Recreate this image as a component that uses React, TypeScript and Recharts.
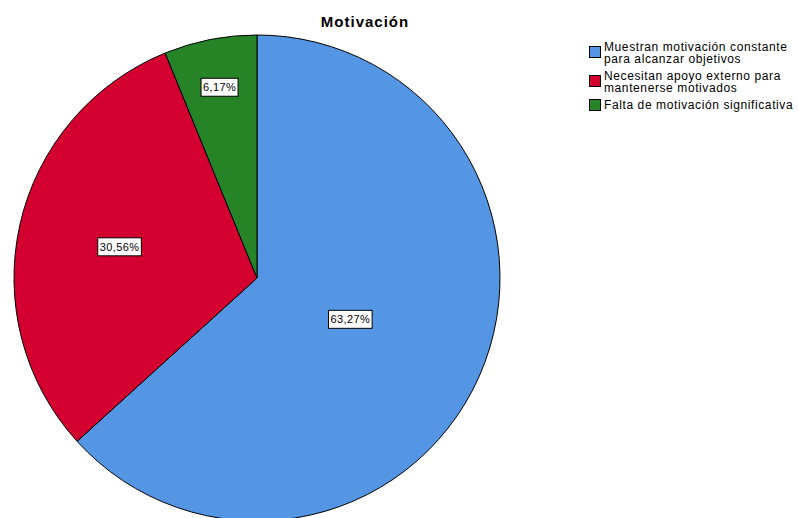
import React from 'react';
import { PieChart, Pie, Cell } from 'recharts';

const categories = [
  'Muestran motivación constante para alcanzar objetivos',
  'Necesitan apoyo externo para mantenerse motivados',
  'Falta de motivación significativa',
];
const legendLines = [
  ['Muestran motivación constante', 'para alcanzar objetivos'],
  ['Necesitan apoyo externo para', 'mantenerse motivados'],
  ['Falta de motivación significativa'],
];
const percents = [63.27, 30.56, 6.17];
const colors = ['#5596E4', '#D4002F', '#268426'];

const data = categories.map((name, i) => ({ name, value: percents[i] }));

const RADIAN = Math.PI / 180;
const FONT = '"Liberation Sans", Arial, sans-serif';
// how far out along each slice the value box sits (share of the radius)
const labelDepth = [0.42, 0.58, 0.8];

const renderLabel = (props: any) => {
  const { cx, cy, midAngle, outerRadius, value, index } = props;
  const r = outerRadius * labelDepth[index];
  const x = cx + r * Math.cos(-midAngle * RADIAN);
  const y = cy + r * Math.sin(-midAngle * RADIAN);
  const text = value.toFixed(2).replace('.', ',') + '%';
  const w = text.length * 6.6 + 4;
  return (
    <g>
      <rect x={x - w / 2} y={y - 9} width={w} height={18} fill="#fff" stroke="#000" strokeWidth={1} />
      <text x={x} y={y + 4} textAnchor="middle" fontSize={11} letterSpacing={0.4} fontFamily={FONT} fill="#000">
        {text}
      </text>
    </g>
  );
};

const LegendBox = () => (
  <div
    style={{
      position: 'absolute',
      left: 589,
      top: 41,
      width: 260,
      fontFamily: FONT,
      fontSize: 12,
      letterSpacing: 0.6,
      color: '#000',
      lineHeight: '12px',
      whiteSpace: 'nowrap',
    }}
  >
    {legendLines.map((lines, i) => (
      <div key={i} style={{ display: 'flex', alignItems: 'flex-start', marginBottom: 5 }}>
        <span
          style={{
            display: 'inline-block',
            width: 10,
            height: 10,
            background: colors[i],
            border: '1px solid #000',
            marginTop: lines.length > 1 ? 5 : 0,
            marginRight: 3,
            flexShrink: 0,
          }}
        />
        <span>
          {lines.map((l, j) => (
            <div key={j}>{l}</div>
          ))}
        </span>
      </div>
    ))}
  </div>
);

const App: React.FC = () => {
  return (
    <div style={{ position: 'absolute', left: 0, top: 0, width: 798, height: 518, background: '#fff', overflow: 'hidden' }}>
      <PieChart width={798} height={518} margin={{ top: 0, right: 0, bottom: 0, left: 0 }} style={{ position: 'absolute', left: 0, top: 0 }}>
        <Pie
          data={data}
          dataKey="value"
          nameKey="name"
          cx={257}
          cy={278}
          outerRadius={243}
          startAngle={90}
          endAngle={-270}
          stroke="#000"
          strokeWidth={1}
          label={renderLabel}
          labelLine={false}
          isAnimationActive={false}
        >
          {data.map((d, i) => (
            <Cell key={d.name} fill={colors[i]} />
          ))}
        </Pie>
      </PieChart>
      <div
        style={{
          position: 'absolute',
          left: 0,
          top: 13,
          width: 730,
          textAlign: 'center',
          fontFamily: FONT,
          fontWeight: 'bold',
          fontSize: 15,
          letterSpacing: 1,
          color: '#000',
        }}
      >
        Motivación
      </div>
      <LegendBox />
    </div>
  );
};

export default App;
